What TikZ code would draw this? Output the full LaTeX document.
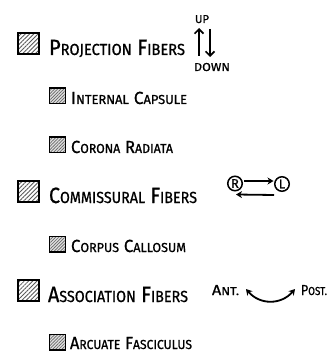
\documentclass[tikz,border=0pt]{standalone}
\usepackage{fontspec}
\setmainfont{Fira Sans}[FakeBold=0.9]
\usepackage{graphicx}
\usetikzlibrary{patterns.meta,arrows.meta}
\newcommand\fitto[2]{\resizebox{#1}{\height}{#2}}
\newcommand\HB[1]{{\fontsize{22}{22}\selectfont #1}}
\newcommand\HS[1]{{\fontsize{16}{16}\selectfont #1}}
\newcommand\IB[1]{{\fontsize{17.5}{17.5}\selectfont #1}}
\newcommand\IS[1]{{\fontsize{13}{13}\selectfont #1}}
\newcommand\LB[1]{{\fontsize{14.5}{14.5}\selectfont #1}}
\newcommand\LS[1]{{\fontsize{11.5}{11.5}\selectfont #1}}
\tikzset{
  bigbox/.style={draw, line width=2pt, minimum size=21pt, inner sep=0pt,
    preaction={fill=white},
    pattern={Lines[angle=45,distance=3pt,line width=0.8pt]}, pattern color=black!65},
  smallbox/.style={draw, line width=1.2pt, minimum size=15.8pt, inner sep=0pt,
    preaction={fill=black!12},
    pattern={Lines[angle=45,distance=2.2pt,line width=0.7pt]}, pattern color=black!60},
  lbl/.style={anchor=base west, inner sep=0pt, outer sep=0pt},
  vert/.style={line width=1.8pt, -{Straight Barb[length=4.5pt,width=9pt,line width=1.7pt]}},
  harr/.style={line width=1.8pt, -{Stealth[length=6pt,width=7pt]}},
  carr/.style={line width=1.8pt, {Stealth[length=6pt,width=7pt]}-{Stealth[length=6pt,width=7pt]}},
  circ/.style={circle, draw, line width=1.5pt, minimum size=14.5pt, inner sep=0pt,
    font=\fontsize{12.5}{12.5}\selectfont}
}
\begin{document}
\begin{tikzpicture}[x=1pt,y=-1pt]
\useasboundingbox (0,0) rectangle (331,352);
% big boxes
\node[bigbox] (b1) at (28.5,43.5) {};
\node[bigbox] (b2) at (28.5,191.5) {};
\node[bigbox] (b3) at (28.5,290.5) {};
% small boxes
\node[smallbox] (s1) at (57.5,96) {};
\node[smallbox] (s2) at (57.5,145) {};
\node[smallbox] (s3) at (57.5,244) {};
\node[smallbox] (s4) at (57.5,342) {};
% headings
\node[lbl] (t1) at (49,55) {\fitto{136pt}{\HB{P}\HS{ROJECTION}\hspace{6pt}\HB{F}\HS{IBERS}}};
\node[lbl] (t2) at (49,203) {\fitto{148pt}{\HB{C}\HS{OMMISSURAL}\hspace{6pt}\HB{F}\HS{IBERS}}};
\node[lbl] (t3) at (48,302) {\fitto{140pt}{\HB{A}\HS{SSOCIATION}\hspace{6pt}\HB{F}\HS{IBERS}}};
% items
\node[lbl] (i1) at (71,104) {\fitto{116pt}{\IB{I}\IS{NTERNAL}\hspace{5pt}\IB{C}\IS{APSULE}}};
\node[lbl] (i2) at (71,153) {\fitto{102pt}{\IB{C}\IS{ORONA}\hspace{5pt}\IB{R}\IS{ADIATA}}};
\node[lbl] (i3) at (71,252) {\fitto{115pt}{\IB{C}\IS{ORPUS}\hspace{5pt}\IB{C}\IS{ALLOSUM}}};
\node[lbl] (i4) at (70,349) {\fitto{122pt}{\IB{A}\IS{RCUATE}\hspace{5pt}\IB{F}\IS{ASCICULUS}}};
% up / down
\node[lbl] (up) at (195,23) {\fitto{14pt}{\LS{UP}}};
\node[lbl] (down) at (194,71) {\fitto{36pt}{\LS{DOWN}}};
\coordinate (ua) at (199,56);
\coordinate (ub) at (199,28);
\coordinate (da) at (210,29);
\coordinate (db) at (210,57);
\draw[vert] (ua) -- (ub);
\draw[vert] (da) -- (db);
% R <-> L
\node[circ] (R) at (235,183.5) {R};
\node[circ] (L) at (282,184) {L};
\draw[harr] ([shift={(1pt,2.5pt)}]R.east) -- ([shift={(-0.5pt,3pt)}]L.west);
\draw[harr] ([shift={(-8pt,-11pt)}]L.center) -- ([shift={(1pt,-11pt)}]R.center);
% Ant. <-> Post.
\node[lbl] (ant) at (212,295) {\fitto{27pt}{\LB{A}\LS{NT.}}};
\node[lbl] (post) at (301,295) {\fitto{26pt}{\LB{P}\LS{OST.}}};
\draw[carr] ([shift={(7pt,1pt)}]ant.east) .. controls +(14,16) and +(-14,16) .. ([shift={(-6pt,1pt)}]post.west);
\end{tikzpicture}
\end{document}
